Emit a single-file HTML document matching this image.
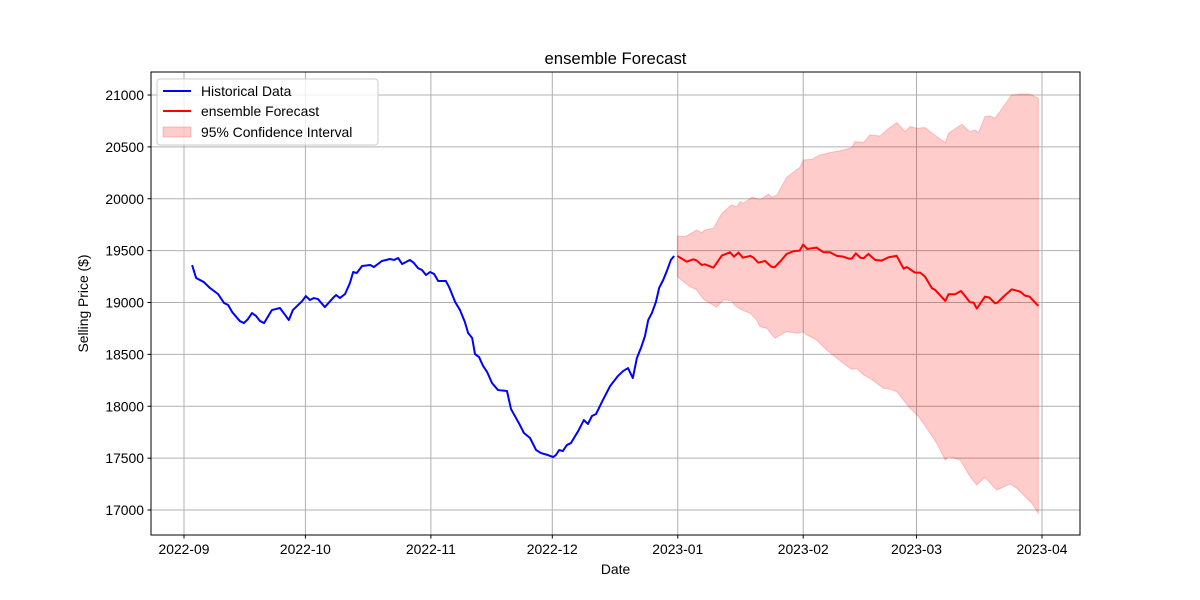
<!DOCTYPE html>
<html><head><meta charset="utf-8"><style>
html,body{margin:0;padding:0;background:#fff;}
svg{display:block;font-family:"Liberation Sans","DejaVu Sans",sans-serif;}
</style></head><body>
<svg id="chart" width="1200" height="600" viewBox="0 0 1200 600" xmlns="http://www.w3.org/2000/svg">
<rect x="0" y="0" width="1200" height="600" fill="#fff"/>
<g id="grid"></g>
<g id="marks"></g>
<rect x="151" y="72" width="929" height="463" fill="none" stroke="#000" stroke-width="1"/>
<g id="ticks"></g>
<text x="615.5" y="64" text-anchor="middle" font-size="16.7">ensemble Forecast</text>
<text x="615.5" y="574" text-anchor="middle" font-size="13.9">Date</text>
<text transform="translate(88,303.5) rotate(-90)" text-anchor="middle" font-size="13.9">Selling Price ($)</text>
<g>
<rect x="157" y="79" width="221" height="66" rx="3" fill="#fff" fill-opacity="0.8" stroke="#ccc"/>
<line x1="163" y1="91" x2="191" y2="91" stroke="#0000ff" stroke-width="2"/>
<text x="201" y="96" font-size="13.9">Historical Data</text>
<line x1="163" y1="111" x2="191" y2="111" stroke="#ff0000" stroke-width="2"/>
<text x="201" y="116" font-size="13.9">ensemble Forecast</text>
<rect x="163" y="127" width="28" height="10" fill="#ff0000" fill-opacity="0.2" stroke="#ff0000" stroke-opacity="0.2"/>
<text x="201" y="137" font-size="13.9">95% Confidence Interval</text>
</g>
</svg>
<script>
// days since 2022-09-01
const histDays=[2,3,4.9,6.4,8.4,9.9,10.9,11.9,13.8,14.8,15.8,16.8,17.8,18.8,19.8,21.7,23.7,25,25.9,26.9,29.2,30.1,31.1,32.1,33.1,34.8,36.8,37.6,38.5,39.8,41,41.8,42.7,44,46,46.9,48.9,50.9,51.9,52.9,53.9,55.8,56.8,57.8,58.8,59.8,60.8,61.8,62.8,64.7,65.5,67,68.2,69.4,70.2,71.2,71.9,72.9,73.9,74.9,76.1,77.6,79.8,80.8,83,84,85.5,87,88.2,89.9,91.2,91.9,92.7,93.6,94.6,95.6,97.4,98.8,99.8,100.8,101.8,103.5,105.3,107.2,108.5,109.7,110.9,111.9,112.9,113.9,114.7,115.6,116.6,117.4,118.4,119.3,120.3,121.1];
const histValues=[19361,19236,19197,19140,19082,18995,18976,18908,18821,18802,18840,18898,18870,18821,18802,18927,18947,18879,18831,18927,19014,19062,19024,19043,19033,18956,19043,19072,19043,19082,19188,19294,19284,19352,19361,19342,19400,19419,19410,19429,19371,19410,19381,19332,19313,19265,19294,19275,19207,19207,19149,19005,18927,18812,18706,18658,18503,18474,18388,18330,18224,18156,18147,17973,17819,17742,17694,17578,17549,17530,17510,17530,17578,17568,17626,17645,17761,17867,17829,17906,17925,18060,18195,18291,18339,18368,18272,18465,18561,18677,18831,18898,19005,19140,19217,19303,19410,19448];
const fcDays=[121.9,124.2,125.9,126.7,127.9,128.7,130.8,132.9,134.9,135.9,137,138.1,139.9,140.7,141.9,143.6,145.1,145.9,147.3,148.9,150.6,152.1,153,154,156.3,158,159.6,161.3,162.9,164.2,165,166,167.1,167.9,169.1,170.8,172.4,174.1,176.1,177.8,178.6,180.6,181.9,183.1,184.8,185.6,188.1,188.9,190.5,192,194.2,195.1,195.9,197.9,199,200.4,201,202.5,204.5,206.6,207.8,208.9,211.1];
const fcValues=[19449,19394,19416,19404,19362,19368,19336,19452,19484,19442,19481,19432,19449,19432,19384,19400,19346,19339,19394,19468,19494,19500,19558,19516,19529,19484,19484,19449,19442,19423,19423,19474,19432,19426,19468,19410,19404,19436,19449,19326,19342,19288,19288,19249,19137,19121,19015,19079,19079,19111,19002,18999,18941,19057,19047,18992,18999,19057,19127,19105,19066,19057,18967];
const upperDays=[121.9,123.8,125,126.7,127.9,128.7,130.8,132.9,135.3,136.6,137.4,138.2,140.3,141.5,142.3,144.4,145.2,146.5,148.9,152.2,153,155.1,157.2,159.6,160.9,162.9,165,165.8,167.9,169.5,172,173.6,176.1,178.2,179.4,181.1,183.1,186,188.1,188.9,192.2,194.2,195.5,196.3,197.9,199.2,200.4,204.5,206.6,208.6,209.5,211.1];
const upperValues=[19641,19635,19661,19699,19673,19699,19715,19860,19940,19924,19972,19956,20014,20004,19988,20046,20014,20036,20207,20303,20374,20380,20422,20445,20454,20470,20493,20551,20541,20615,20605,20663,20734,20647,20695,20679,20686,20599,20541,20631,20718,20647,20663,20637,20791,20798,20776,21000,21010,21010,21000,20968];
const lowerDays=[121.9,123.4,125,126.7,128.3,130,131.6,133.3,135.3,136.2,137.8,139.9,141.5,142.3,144,146,148.9,151.8,153,153.9,156.3,158.8,162.9,165,166.2,167.9,169.5,172.8,174.5,176.1,179.4,181.5,184.4,186,188.1,188.9,191.8,194.2,195.9,197.9,200.8,204.1,205.8,207.4,209.5,211.1];
const lowerValues=[19249,19201,19153,19121,19034,18992,18954,19024,19018,18967,18928,18896,18832,18767,18751,18655,18719,18703,18719,18687,18639,18542,18414,18356,18366,18302,18269,18173,18163,18141,17980,17900,17739,17643,17482,17514,17482,17322,17241,17315,17193,17251,17209,17145,17064,16968];
const xTickDays=[0,30,61,91,122,153,181,212];
const xTickLabels=["2022-09","2022-10","2022-11","2022-12","2023-01","2023-02","2023-03","2023-04"];
const yTickValues=[17000,17500,18000,18500,19000,19500,20000,20500,21000];

const NS="http://www.w3.org/2000/svg";
function xScale(d){return 184+d*(858/212);}
function yScale(v){return 510-(v-17000)*(415/4000);}
function mk(tag,attrs,parent){const e=document.createElementNS(NS,tag);for(const k in attrs)e.setAttribute(k,attrs[k]);parent.appendChild(e);return e;}
const grid=document.getElementById('grid'),marks=document.getElementById('marks'),ticks=document.getElementById('ticks');

xTickDays.forEach((d,i)=>{
  const x=xScale(d);
  const g=mk('line',{x1:x,y1:72,x2:x,y2:535,stroke:'#b0b0b0','stroke-width':1},grid);
  
  
  const t=mk('line',{x1:x,y1:535,x2:x,y2:538.5,stroke:'#000'},ticks);
  
  
  const l=mk('text',{x:x,y:554,'text-anchor':'middle','font-size':13.9},ticks);
  l.textContent=xTickLabels[i];
  
  
});
yTickValues.forEach(v=>{
  const y=yScale(v);
  const g=mk('line',{x1:151,y1:y,x2:1080,y2:y,stroke:'#b0b0b0','stroke-width':1},grid);
  
  
  const t=mk('line',{x1:147.5,y1:y,x2:151,y2:y,stroke:'#000'},ticks);
  
  
  const l=mk('text',{x:144,y:y+5,'text-anchor':'end','font-size':13.9},ticks);
  l.textContent=String(v);
  
  
});

let band=upperDays.map((d,i)=>xScale(d)+','+yScale(upperValues[i]));
for(let i=lowerDays.length-1;i>=0;i--)band.push(xScale(lowerDays[i])+','+yScale(lowerValues[i]));
const poly=mk('polygon',{points:band.join(' '),fill:'#ff0000','fill-opacity':0.2,stroke:'#ff0000','stroke-opacity':0.2},marks);



const hist=mk('polyline',{points:histDays.map((d,i)=>xScale(d)+','+yScale(histValues[i])).join(' '),fill:'none',stroke:'#0000ff','stroke-width':2,'stroke-linejoin':'round'},marks);


const fc=mk('polyline',{points:fcDays.map((d,i)=>xScale(d)+','+yScale(fcValues[i])).join(' '),fill:'none',stroke:'#ff0000','stroke-width':2,'stroke-linejoin':'round'},marks);


</script>
</body></html>
